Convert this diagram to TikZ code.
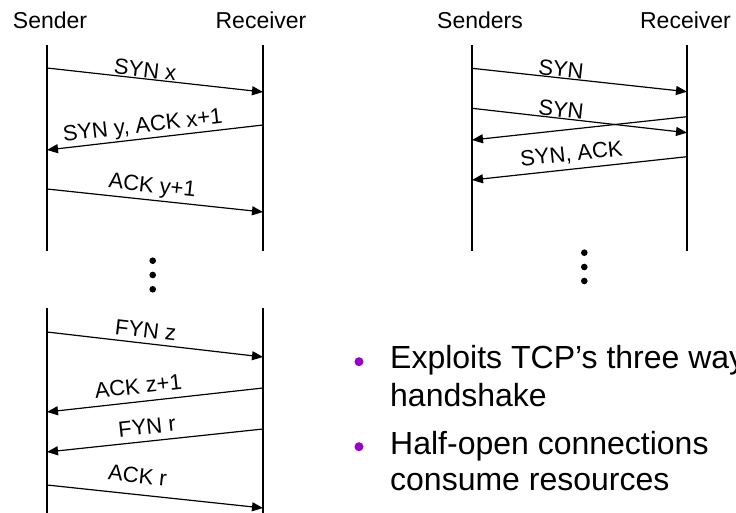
\documentclass[tikz,border=0pt]{standalone}
\usepackage{fontspec}
\setmainfont{Liberation Sans}
\usetikzlibrary{arrows.meta}
\definecolor{bulletpurple}{HTML}{9900CC}
\begin{document}
\begin{tikzpicture}[x=1pt,y=-1pt,
  life/.style={line width=1.2pt},
  msg/.style={line width=1.2pt,-{Triangle[length=11pt,width=9pt]}},
  head/.style={font=\fontsize{23}{27}\selectfont, anchor=base, inner sep=0pt},
  lbl/.style={font=\fontsize{22}{26}\selectfont, sloped, anchor=south, text depth=0pt, inner xsep=0pt},
  dotmark/.style={circle, fill, inner sep=0pt, minimum size=6.6pt},
  bulletmark/.style={circle, fill=bulletpurple, inner sep=0pt, minimum size=9pt},
  btext/.style={font=\fontsize{32}{37}\selectfont, anchor=base west, inner sep=0pt}]
\useasboundingbox (0,0) rectangle (736,513);
\clip (0,0) rectangle (736,513);

% ---------- three-way handshake and teardown ----------
\node[head] (sender) at (50,29) {Sender};
\node[head] (receiver) at (261,29) {Receiver};

\coordinate (sA) at (47,45);   \coordinate (sB) at (47,251);
\coordinate (rA) at (263,45);  \coordinate (rB) at (263,251);
\draw[life] (sA) -- (sB);
\draw[life] (rA) -- (rB);

\coordinate (m1s) at (47,68);   \coordinate (m1r) at (263,92);
\coordinate (m2r) at (263,125); \coordinate (m2s) at (47,150);
\coordinate (m3s) at (47,189);  \coordinate (m3r) at (263,212);
\draw[msg] (m1s) -- node[lbl, pos=0.45, inner ysep=1pt] (l1) {SYN x} (m1r);
\draw[msg] (m2r) -- node[lbl, pos=0.55, inner ysep=6pt] (l2) {SYN y, ACK x+1} (m2s);
\draw[msg] (m3s) -- node[lbl, pos=0.48, inner ysep=7pt] (l3) {ACK y+1} (m3r);

\node[dotmark] (d1) at (152.7,260.7) {};
\node[dotmark] (d2) at (152.7,275) {};
\node[dotmark] (d3) at (152.7,289.3) {};

\coordinate (sC) at (47,308);   \coordinate (sD) at (47,513);
\coordinate (rC) at (263,308);  \coordinate (rD) at (263,513);
\draw[life] (sC) -- (sD);
\draw[life] (rC) -- (rD);

\coordinate (m4s) at (47,332);  \coordinate (m4r) at (263,357);
\coordinate (m5r) at (263,388); \coordinate (m5s) at (47,412);
\coordinate (m6r) at (263,429); \coordinate (m6s) at (47,452);
\coordinate (m7s) at (47,485);  \coordinate (m7r) at (263,508);
\draw[msg] (m4s) -- node[lbl, pos=0.45, inner ysep=5pt] (l4) {FYN z} (m4r);
\draw[msg] (m5r) -- node[lbl, pos=0.57, inner ysep=7.5pt] (l5) {ACK z+1} (m5s);
\draw[msg] (m6r) -- node[lbl, pos=0.53, inner ysep=6.5pt] (l6) {FYN r} (m6s);
\draw[msg] (m7s) -- node[lbl, pos=0.41, inner ysep=11pt] (l7) {ACK r} (m7r);

% ---------- SYN flood ----------
\node[head] (senders) at (480,29) {Senders};
\node[head] (receiver2) at (685.5,29) {Receiver};

\coordinate (SA) at (472,45);  \coordinate (SB) at (472,251);
\coordinate (RA) at (687,45);  \coordinate (RB) at (687,251);
\draw[life] (SA) -- (SB);
\draw[life] (RA) -- (RB);

\coordinate (f1s) at (472,68.3);  \coordinate (f1r) at (687,91.7);
\coordinate (f2s) at (472,108.3); \coordinate (f2r) at (687,132.7);
\coordinate (f3r) at (687,116.7); \coordinate (f3s) at (472,140);
\coordinate (f4r) at (687,156.7); \coordinate (f4s) at (472,180);
\draw[msg] (f1s) -- node[lbl, pos=0.41, inner ysep=0.5pt] (k1) {SYN} (f1r);
\draw[msg] (f2s) -- node[lbl, pos=0.41, inner ysep=0.5pt] (k2) {SYN} (f2r);
\draw[msg] (f3r) -- (f3s);
\draw[msg] (f4r) -- node[lbl, pos=0.53, inner ysep=7.5pt] (k4) {SYN, ACK} (f4s);

\node[dotmark] (e1) at (584.3,252.7) {};
\node[dotmark] (e2) at (584.3,267) {};
\node[dotmark] (e3) at (584.3,281) {};

% ---------- notes ----------
\node[bulletmark] (b1) at (359,361.7) {};
\node[btext] (t1a) at (390,368.3) {Exploits TCP’s three way};
\node[btext] (t1b) at (390,406.7) {handshake};
\node[bulletmark] (b2) at (359,446.7) {};
\node[btext] (t2a) at (390,454) {Half-open connections};
\node[btext] (t2b) at (390,490.7) {consume resources};
\end{tikzpicture}
\end{document}
